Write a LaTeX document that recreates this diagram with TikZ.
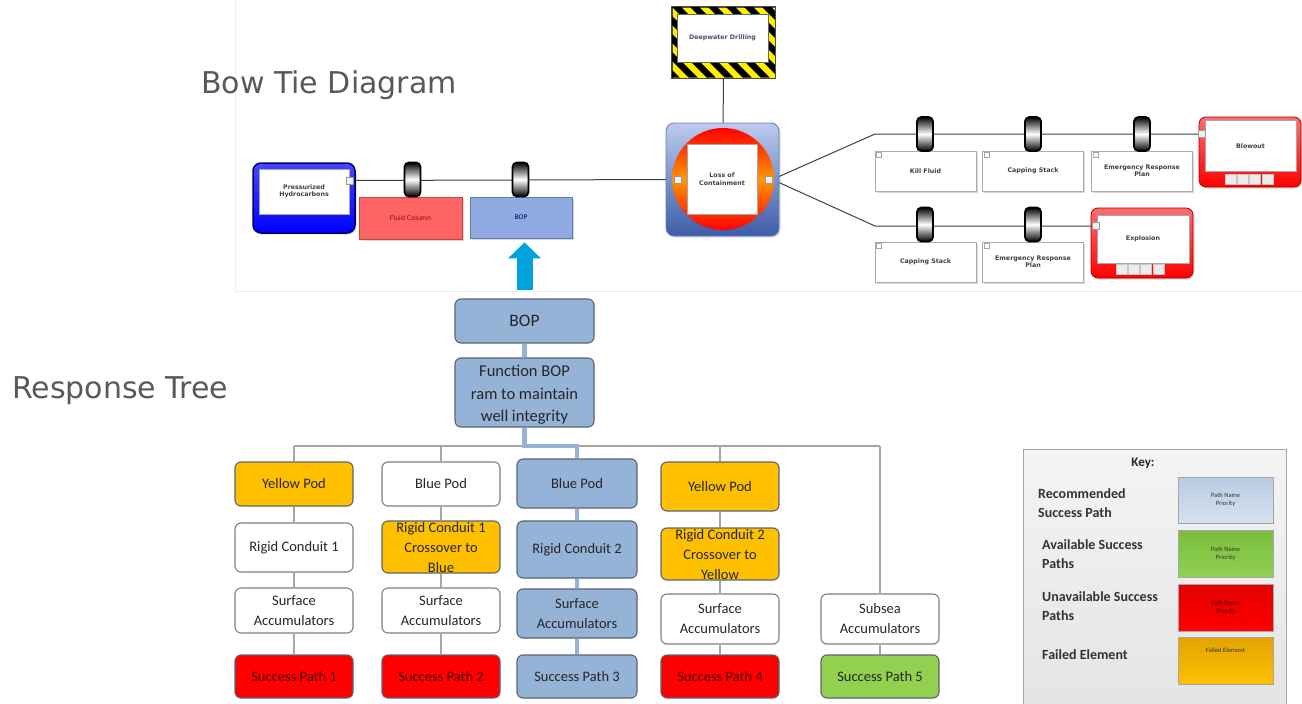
\documentclass[tikz,border=0pt]{standalone}
\usepackage{fontspec}
\setmainfont{Carlito}
\newfontfamily\headfont{DejaVu Sans}
\newfontfamily\smallfont{DejaVu Sans}
\usetikzlibrary{calc,shadows,arrows.meta}

\definecolor{tblue}{HTML}{95B3D7}
\definecolor{tborder}{HTML}{5A6472}
\definecolor{tplainb}{HTML}{7F7F7F}
\definecolor{torange}{HTML}{FFC000}
\definecolor{tred}{HTML}{FF0000}
\definecolor{tgreen}{HTML}{92D050}
\definecolor{tline}{HTML}{A6A6A6}
\definecolor{ttext}{HTML}{262626}
\definecolor{redtext}{HTML}{4A0000}
\definecolor{headgray}{HTML}{595959}
\definecolor{arrowcyan}{HTML}{00A2DB}
\definecolor{fcred}{HTML}{FF6464}
\definecolor{fcborder}{HTML}{C04848}
\definecolor{bopfill}{HTML}{90AAE2}
\definecolor{bopborder}{HTML}{6078B8}
\definecolor{lctop}{HTML}{BCCBEE}
\definecolor{lcbot}{HTML}{3D5CA8}
\definecolor{hazyellow}{HTML}{FFEE00}
\definecolor{keytop}{HTML}{F4F4F4}
\definecolor{keybot}{HTML}{E4E4E4}
\definecolor{keyborder}{HTML}{A6A6A6}

\pgfdeclarelayer{panel}
\pgfdeclarelayer{wires}
\pgfsetlayers{panel,wires,main}

\tikzset{
  treebox/.style={draw=tborder, line width=1.1pt, rounded corners=6pt, inner sep=0pt,
    minimum width=118pt, align=center, text=ttext,
    font=\fontsize{14.5}{20}\selectfont},
  boxfail/.style={treebox, fill=torange},
  boxplain/.style={treebox, fill=white, draw=tplainb},
  boxrec/.style={treebox, fill=tblue},
  boxbad/.style={treebox, fill=tred, text=redtext},
  boxgood/.style={treebox, fill=tgreen},
  treetext/.style={inner sep=0pt, align=center, text=ttext, font=\fontsize{14.5}{20}\selectfont},
  treeline/.style={draw=tline, line width=1.3pt},
  recline/.style={draw=tblue, line width=4.5pt},
  bttext/.style={font={\smallfont\bfseries\fontsize{6.3}{7.3}\selectfont}, text=black!75, align=center},
  btline/.style={draw=black!75, line width=1pt},
  barrier/.style={draw=gray!65, line width=0.8pt, fill=white, inner sep=0pt,
    minimum width=101pt, minimum height=40pt, bttext,
    drop shadow={shadow xshift=1.5pt, shadow yshift=-1.5pt, opacity=0.3}},
  knob/.style={draw=black, line width=1.8pt, rounded corners=4.5pt, inner sep=0pt,
    minimum width=16pt, minimum height=34pt, top color=black, bottom color=black, middle color=white},
  port/.style={draw=gray!80, line width=0.6pt, fill=gray!12, inner sep=0pt,
    minimum width=7pt, minimum height=7pt},
  cell/.style={draw=gray!45, line width=0.5pt, fill=gray!15, inner sep=0pt,
    minimum width=11pt, minimum height=10pt},
  redframe/.style={draw=red!65!black, line width=0.8pt, rounded corners=7pt, inner sep=0pt,
    top color={rgb,255:red,255;green,110;blue,110}, bottom color=red,
    drop shadow={shadow xshift=1.5pt, shadow yshift=-1.5pt, opacity=0.3}},
  innerwhite/.style={draw=gray!70, line width=0.5pt, fill=white, inner sep=0pt, bttext},
  swatch/.style={draw=gray!70, line width=0.8pt, inner sep=0pt, minimum width=95pt,
    minimum height=46pt, align=center, text=black!80, font=\fontsize{6.5}{8}\selectfont},
  keylabel/.style={anchor=west, align=left, inner sep=0pt, text=black!80,
    font=\bfseries\fontsize{14}{19}\selectfont},
  heading/.style={anchor=base west, inner sep=0pt, text=headgray,
    font=\headfont\fontsize{30}{36}\selectfont}
}

\begin{document}
\begin{tikzpicture}[x=1pt,y=-1pt]
\useasboundingbox (0,0) rectangle (1302,704);
\begin{pgfonlayer}{panel}
  \fill[white] (0,0) rectangle (1302,704);
  \draw[gray!12, line width=0.8pt] (235,0) -- (235,291) -- (1302,291);
\end{pgfonlayer}

% ---------- headings ----------
\node[heading] (h1) at (201,93) {Bow Tie Diagram};
\node[heading] (h2) at (12,398) {Response Tree};

% ---------- bow tie: threat side ----------
\node[draw=blue!40!black, line width=1.5pt, rounded corners=8pt, inner sep=0pt,
  minimum width=102pt, minimum height=70pt,
  top color={rgb,255:red,70;green,70;blue,255}, bottom color=blue,
  drop shadow={shadow xshift=1.5pt, shadow yshift=-1.5pt, opacity=0.3}] (phc) at (304,198) {};
\node[innerwhite, minimum width=90pt, minimum height=45pt] (phcin) at (304,191.5) {Pressurized\\Hydrocarbons};
\node[port] (phcport) at (349.5,180.5) {};

\node[barrier, fill=fcred, draw=fcborder,
  font={\smallfont\fontsize{6.3}{7.3}\selectfont}, text=red!55!black,
  minimum width=103pt, minimum height=42pt] (fc) at (410.5,218) {Fluid Column};
\node[barrier, fill=bopfill, draw=bopborder,
  font={\smallfont\fontsize{6.3}{7.3}\selectfont}, text=blue!35!black,
  minimum width=102pt, minimum height=41pt] (bbop) at (521,217.5) {BOP};
\node[knob] (k1) at (412.5,179.5) {};
\node[knob] (k2) at (520.5,179.5) {};

% ---------- bow tie: top event and hazard ----------
\node[draw=black!70, line width=0.8pt, fill=hazyellow, inner sep=0pt,
  minimum width=103pt, minimum height=71pt] (dd) at (723.5,42.5) {};
\begin{scope}
  \clip (dd.south west) rectangle (dd.north east);
  \foreach \i in {-6,...,7}
    \fill[black] ($(dd.north west)+(\i*18,0)$) -- ++(9,0) -- ++(71,71) -- ++(-9,0) -- cycle;
\end{scope}
\draw[black!70, line width=0.8pt] (dd.south west) rectangle (dd.north east);
\node[innerwhite, draw=black!60, minimum width=91pt, minimum height=48pt,
  text=blue!25!black!70] (ddin) at (722.5,38) {Deepwater Drilling};

\node[draw=lcbot!80!white, line width=0.8pt, rounded corners=8pt, inner sep=0pt,
  minimum width=113pt, minimum height=113pt, top color=lctop, bottom color=lcbot,
  drop shadow={shadow xshift=1.5pt, shadow yshift=-1.5pt, opacity=0.3}] (lc) at (722.5,179.5) {};
\node[circle, inner sep=0pt, minimum size=102pt,
  top color=red, bottom color=red, middle color={rgb,255:red,255;green,150;blue,0}] (lcc) at (723,179) {};
\node[innerwhite, minimum width=70pt, minimum height=70pt] (loc) at (722,179) {Loss of\\Containment};
\node[port] (lcL) at (677.5,179.5) {};
\node[port] (lcR) at (768.5,179.5) {};

% ---------- bow tie: consequence side ----------
\coordinate (up) at (875,134);
\coordinate (lo) at (875,226);

\node[barrier] (kf)  at (925.5,171) {Kill Fluid};
\node[barrier] (cs1) at (1033,171) {Capping Stack};
\node[barrier] (erp1) at (1142,171) {Emergency Response\\Plan};
\node[barrier] (cs2) at (925.5,262) {Capping Stack};
\node[barrier] (erp2) at (1033,262) {Emergency Response\\Plan};
\foreach \b in {kf,cs1,erp1,cs2,erp2}
  \draw[gray!70, line width=0.5pt] ([shift={(2,2)}]\b.north west) rectangle ++(5,5);

\node[knob] (k3) at (925,134) {};
\node[knob] (k4) at (1033,134) {};
\node[knob] (k5) at (1142,134) {};
\node[knob] (k6) at (925,224.5) {};
\node[knob] (k7) at (1033,224.5) {};

\node[redframe, minimum width=102pt, minimum height=70pt] (bl) at (1250,152) {};
\node[innerwhite, minimum width=91pt, minimum height=51pt] (blin) at (1250.5,146) {Blowout};
\foreach \k in {0,...,3}
  \node[cell] (blc\k) at (1230.5+\k*12.3,179) {};
\node[port] (blport) at (1202,134) {};

\node[redframe, minimum width=102pt, minimum height=70pt] (ex) at (1142,243) {};
\node[innerwhite, minimum width=92pt, minimum height=48pt] (exin) at (1143,239) {Explosion};
\foreach \k in {0,...,3}
  \node[cell] (exc\k) at (1121.5+\k*12.3,269.5) {};
\node[port] (export) at (1096,226) {};

\begin{pgfonlayer}{wires}
  \draw[btline] (phcport.east) -- (lcL.west);
  \draw[btline] (dd.south) -- (lcc.north);
  \draw[btline] (lcR.east) -- (up) -- (blport.west);
  \draw[btline] (lcR.east) -- (lo) -- (export.west);
\end{pgfonlayer}

% ---------- response tree ----------
\node[boxrec, minimum width=139pt, minimum height=44pt,
  font=\fontsize{17.5}{20}\selectfont] (tbop) at (524.5,321) {BOP};
\node[boxrec, minimum width=139pt, minimum height=69pt] (fn) at (524.5,392.5) {};
\node[inner sep=0pt, align=center, text=ttext,
  font=\fontsize{16.5}{22.5}\selectfont] (fnt) at (524.5,395) {Function BOP\\ram to maintain\\well integrity};

\draw[-{Triangle[width=32pt,length=16pt]}, line width=16pt, draw=arrowcyan]
  ([yshift=8pt]tbop.north) -- ([yshift=-4pt]tbop.north |- bbop.south);

% column 1
\node[boxfail,  minimum height=44pt] (ya) at (294,484) {Yellow Pod};
\node[boxplain, minimum height=49pt] (yb) at (294,547.5) {Rigid Conduit 1};
\node[boxplain, minimum height=45pt] (yc) at (294,610.5) {Surface\\Accumulators};
\node[boxbad,   minimum height=43pt] (yd) at (294,676.5) {Success Path 1};
% column 2
\node[boxplain, minimum height=44pt] (ba) at (441,484) {Blue Pod};
\node[boxfail,  minimum height=52pt] (bb) at (441,547) {};
\node[treetext] (bbt) at (441,548) {Rigid Conduit 1\\Crossover to\\Blue};
\node[boxplain, minimum height=45pt] (bc) at (441,610.5) {Surface\\Accumulators};
\node[boxbad,   minimum height=43pt] (bd) at (441,676.5) {Success Path 2};
% column 3
\node[boxrec, minimum width=120pt, minimum height=49pt] (ra) at (577,483.5) {Blue Pod};
\node[boxrec, minimum width=120pt, minimum height=57pt] (rb) at (577,549.5) {Rigid Conduit 2};
\node[boxrec, minimum width=120pt, minimum height=49pt] (rc) at (577,613.5) {Surface\\Accumulators};
\node[boxrec, minimum width=120pt, minimum height=43pt] (rd) at (577,676.5) {Success Path 3};
% column 4
\node[boxfail,  minimum height=49pt] (ga) at (720,486.5) {Yellow Pod};
\node[boxfail,  minimum height=52pt] (gb) at (720,554) {};
\node[treetext] (gbt) at (720,555) {Rigid Conduit 2\\Crossover to\\Yellow};
\node[boxplain, minimum height=50pt] (gc) at (720,619) {Surface\\Accumulators};
\node[boxbad,   minimum height=43pt] (gd) at (720,676.5) {Success Path 4};
% column 5
\node[boxplain, minimum height=50pt] (sa) at (880,619) {Subsea\\Accumulators};
\node[boxgood,  minimum height=43pt] (sd) at (880,676.5) {Success Path 5};

\coordinate (hl) at (0,446);
\begin{pgfonlayer}{wires}
  \draw[treeline] (ya.north |- hl) -- (sa.north |- hl);
  \foreach \n in {ya,ba,ga,sa}
    \draw[treeline] (\n.north |- hl) -- (\n.north);
  \draw[treeline] (ya.south) -- (yb.north) (yb.south) -- (yc.north) (yc.south) -- (yd.north);
  \draw[treeline] (ba.south) -- (bb.north) (bb.south) -- (bc.north) (bc.south) -- (bd.north);
  \draw[treeline] (ga.south) -- (gb.north) (gb.south) -- (gc.north) (gc.south) -- (gd.north);
  \draw[treeline] (sa.south) -- (sd.north);
  \draw[recline] (tbop.south) -- (fn.north);
  \draw[recline] (fn.south) -- (fn.south |- hl) -- (ra.north |- hl) -- (ra.north);
  \draw[recline] (ra.south) -- (rb.north) (rb.south) -- (rc.north) (rc.south) -- (rd.north);
\end{pgfonlayer}

% ---------- key ----------
\node[draw=keyborder, line width=1pt, inner sep=0pt, minimum width=263pt, minimum height=263pt,
  top color=keytop, bottom color=keybot] (key) at (1154.5,580.5) {};
\node[inner sep=0pt, text=black!85, font=\bfseries\fontsize{13}{15}\selectfont] (keyt) at (1143,463) {Key:};
\node[swatch, top color={rgb,255:red,184;green,204;blue,228}, bottom color={rgb,255:red,214;green,226;blue,240}] (s1) at (1225.5,500) {Path Name\\Priority};
\node[swatch, top color={rgb,255:red,120;green,190;blue,60}, bottom color=tgreen, minimum height=47pt] (s2) at (1225.5,553.5) {Path Name\\Priority};
\node[swatch, top color={rgb,255:red,226;green,0;blue,0}, bottom color=tred, minimum height=47pt, text=redtext] (s3) at (1225.5,607.5) {Path Name\\Priority};
\node[swatch, top color={rgb,255:red,226;green,164;blue,0}, bottom color=torange, minimum height=47pt] (s4) at (1225.5,660.5) {Failed Element\\[12pt]};
\node[keylabel] (l1) at (1038,503) {Recommended\\Success Path};
\node[keylabel] (l2) at (1042,554) {Available Success\\Paths};
\node[keylabel] (l3) at (1042,606.5) {Unavailable Success\\Paths};
\node[keylabel] (l4) at (1042,655) {Failed Element};
\end{tikzpicture}
\end{document}
